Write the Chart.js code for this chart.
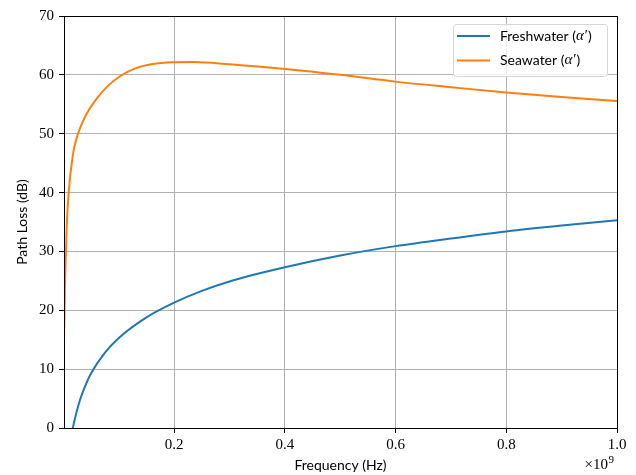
<!DOCTYPE html>
<html>
<head>
<meta charset="utf-8">
<script src="https://cdn.jsdelivr.net/npm/chart.js@4.4.1/dist/chart.umd.min.js"></script>
<style>
  html, body { margin: 0; padding: 0; background: #fff; }
  #wrap { width: 636px; height: 475px; }
</style>
</head>
<body>
<div id="wrap"><canvas id="lossChart" width="636" height="475"></canvas></div>
<script>
// Frequency in units of 1e9 Hz, path loss in dB
const freshFreq = [0.017, 0.02, 0.03, 0.04, 0.05, 0.075, 0.1, 0.15, 0.2, 0.25, 0.3, 0.4, 0.5, 0.6, 0.7, 0.8, 0.9, 1.0];
const freshLoss = [0.0, 1.3, 4.8, 7.3, 9.3, 12.8, 15.3, 18.8, 21.3, 23.3, 24.9, 27.3, 29.3, 30.9, 32.2, 33.4, 34.4, 35.3];

const seaFreq = [0.001, 0.002, 0.0027, 0.0045, 0.0063, 0.0094, 0.0172, 0.025, 0.032, 0.042, 0.058, 0.079, 0.1035, 0.131, 0.161, 0.197, 0.236, 0.3, 0.4, 0.5, 0.6, 0.7, 0.8, 0.9, 1.0];
const seaLoss = [15.0, 20.0, 24.0, 30.0, 35.0, 40.0, 46.5, 49.6, 51.4, 53.4, 55.7, 58.0, 59.85, 61.15, 61.85, 62.15, 62.2, 61.8, 61.0, 60.0, 58.85, 57.9, 57.0, 56.25, 55.55];

const xTicks = [0.2, 0.4, 0.6, 0.8, 1.0];
const yTicks = [0, 10, 20, 30, 40, 50, 60, 70];

const seriesNames = ['Freshwater', 'Seawater'];
const seriesColors = ['#1f77b4', '#ff7f0e'];

const toPoints = (xs, ys) => xs.map((x, i) => ({ x: x, y: ys[i] }));

const tickFont = { family: 'Liberation Serif', size: 15 };
const titleFont = { family: 'Lato', size: 14 };

// black frame round the plot area (matplotlib spines)
const framePlugin = {
  id: 'frame',
  afterDraw(chart) {
    const { ctx, chartArea: a } = chart;
    ctx.save();
    ctx.strokeStyle = '#000';
    ctx.lineWidth = 1;
    ctx.strokeRect(Math.round(a.left) + 0.5, Math.round(a.top) + 0.5,
      Math.round(a.right - a.left), Math.round(a.bottom - a.top));

    // x10^9 offset label
    ctx.fillStyle = '#000';
    ctx.textBaseline = 'alphabetic';
    ctx.textAlign = 'right';
    ctx.font = '11px Liberation Serif';
    ctx.fillText('9', a.right - 3, 463);
    ctx.font = '15px Liberation Serif';
    ctx.fillText('\u00d710', a.right - 9, 469);
    ctx.restore();
  }
};

// legend box in the upper right, like matplotlib
const legendPlugin = {
  id: 'boxLegend',
  afterDraw(chart) {
    const { ctx } = chart;
    const x = 453, y = 24, w = 154, h = 52, r = 3;
    ctx.save();
    ctx.beginPath();
    ctx.roundRect(x + 0.5, y + 0.5, w, h, r);
    ctx.fillStyle = 'rgba(255,255,255,0.8)';
    ctx.fill();
    ctx.strokeStyle = '#d6d6d6';
    ctx.lineWidth = 1;
    ctx.stroke();

    seriesNames.forEach((name, i) => {
      const ly = 36 + i * 24.5;
      ctx.beginPath();
      ctx.moveTo(457, ly);
      ctx.lineTo(490, ly);
      ctx.strokeStyle = seriesColors[i];
      ctx.lineWidth = 2;
      ctx.stroke();

      ctx.fillStyle = '#000';
      ctx.textBaseline = 'middle';
      ctx.textAlign = 'left';
      let tx = 500;
      ctx.font = '14px Lato';
      ctx.fillText(name + ' (', tx, ly);
      tx += ctx.measureText(name + ' (').width;
      ctx.font = 'italic 15px Liberation Serif';
      ctx.fillText('\u03b1\u2032', tx, ly);
      tx += ctx.measureText('\u03b1\u2032').width + 1;
      ctx.font = '14px Lato';
      ctx.fillText(')', tx, ly);
    });
    ctx.restore();
  }
};

const ctx = document.getElementById('lossChart').getContext('2d');
const lossChart = new Chart(ctx, {
  type: 'line',
  data: {
    datasets: [
      {
        label: seriesNames[0],
        data: toPoints(freshFreq, freshLoss),
        borderColor: seriesColors[0],
        borderWidth: 2,
        pointRadius: 0,
        cubicInterpolationMode: 'monotone'
      },
      {
        label: seriesNames[1],
        data: toPoints(seaFreq, seaLoss),
        borderColor: seriesColors[1],
        borderWidth: 2,
        pointRadius: 0,
        cubicInterpolationMode: 'monotone'
      }
    ]
  },
  options: {
    responsive: false,
    animation: false,
    layout: { padding: { left: 14, right: 19, top: 16, bottom: 1 } },
    plugins: {
      legend: { display: false },
      tooltip: { enabled: false }
    },
    scales: {
      x: {
        type: 'linear',
        min: 0.001,
        max: 1.0,
        afterBuildTicks: scale => { scale.ticks = xTicks.map(v => ({ value: v })); },
        afterFit: scale => { scale.height = 46; },
        ticks: {
          font: tickFont,
          color: '#000',
          padding: 3,
          maxRotation: 0,
          callback: v => v.toFixed(1)
        },
        grid: { color: '#b0b0b0', tickColor: '#000', tickLength: 5 },
        border: { color: '#000' },
        title: {
          display: true,
          text: 'Frequency (Hz)',
          font: titleFont,
          color: '#000',
          padding: { top: 0, bottom: 0 }
        }
      },
      y: {
        min: 0,
        max: 70,
        afterBuildTicks: scale => { scale.ticks = yTicks.map(v => ({ value: v })); },
        afterFit: scale => { scale.width = 50; },
        ticks: { font: tickFont, color: '#000', padding: 5 },
        grid: { color: '#b0b0b0', tickColor: '#000', tickLength: 5 },
        border: { color: '#000' },
        title: {
          display: true,
          text: 'Path Loss (dB)',
          font: titleFont,
          color: '#000',
          padding: { top: 0, bottom: 0 }
        }
      }
    }
  },
  plugins: [framePlugin, legendPlugin]
});
</script>
</body>
</html>
